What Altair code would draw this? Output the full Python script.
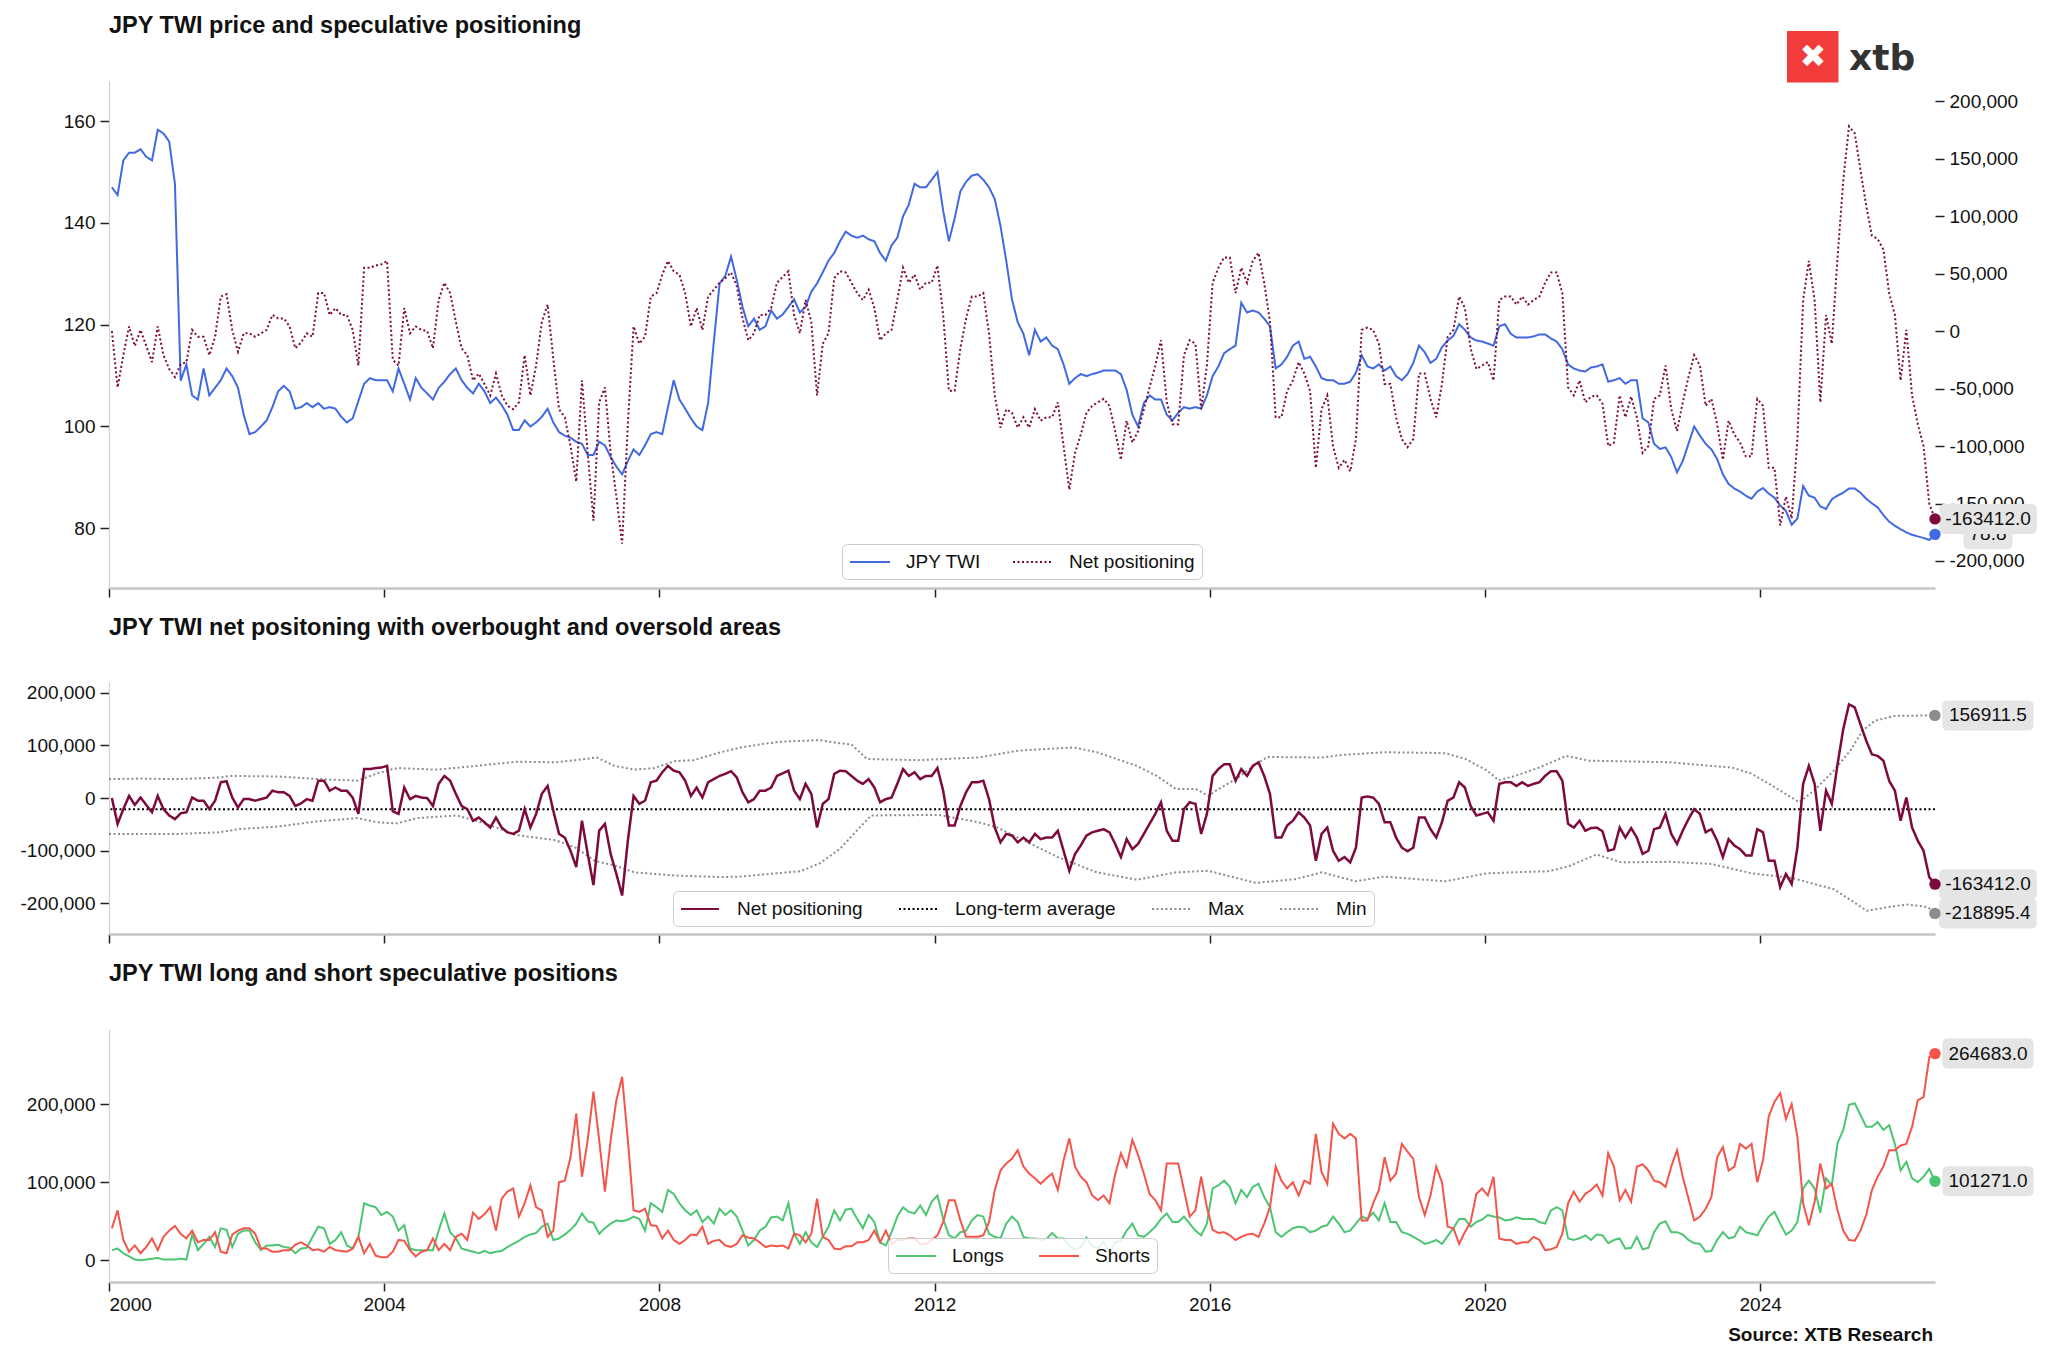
import altair as alt
import pandas as pd

FONT = "Liberation Sans"
BLUE = "#4169E1"
MAROON = "#7D0A3C"
GREEN = "#4CC573"
RED = "#F4544A"
GRAY = "#8C8C8C"
BOXC = "#E5E5E5"
INK = "#111111"
LOGO_RED = "#F23B3B"

# ---------------- data: monthly readings, Jan 2000 ... Jul 2026 ----------------
# JPY trade weighted index (left axis of panel 1)
TWI = [
    147, 145.5, 152.3, 153.8, 153.8, 154.5, 153, 152.3, 158.3, 157.6, 156, 147.7,
    109, 112.2, 106.1, 105.3, 111.4, 106.1, 107.6, 109.1, 111.4, 109.9, 107.6, 102.3,
    98.5, 98.9, 100, 101.2, 103.8, 106.9, 108, 106.9, 103.5, 103.8, 104.6, 103.8,
    104.6, 103.5, 103.8, 103.5, 101.9, 100.8, 101.6, 105, 108.4, 109.5, 109.1, 109.1,
    109.1, 106.9, 111.4, 108.4, 105.3, 109.5, 107.6, 106.5, 105.3, 107.6, 108.8, 110.3,
    111.4, 109.1, 107.6, 106.5, 108.4, 106.9, 104.6, 105.7, 104.2, 102.3, 99.3, 99.3,
    101.2, 100, 100.8, 101.9, 103.5, 100.8, 98.9, 98.2, 97.8, 97, 96.6, 94.4,
    94.4, 97, 96.3, 94, 92.1, 90.6, 93.2, 95.5, 94.4, 96.3, 98.5, 98.9,
    98.5, 103.8, 109.1, 105.3, 103.5, 101.6, 100, 99.3, 104.6, 116.7, 128.1, 129.6,
    133.4, 128.8, 123.5, 119.7, 121.2, 119, 119.7, 122.8, 121.2, 122, 123.5, 125,
    122.4, 123.5, 126.5, 128.1, 130.3, 132.6, 134.1, 136.4, 138.3, 137.5, 137.1, 137.5,
    136.8, 136.4, 134.1, 132.6, 135.6, 137.1, 141.3, 143.6, 147.7, 147, 147, 148.5,
    150, 142.4, 136.4, 140.9, 146.2, 148.1, 149.3, 149.6, 148.5, 147, 144.7, 139.4,
    132.6, 125, 120.5, 118.2, 114, 119, 116.7, 117.5, 115.9, 115.2, 112.2, 108.4,
    109.5, 110.3, 109.9, 110.3, 110.6, 111, 111, 111, 110.3, 107.2, 102.3, 100,
    104.6, 106.1, 105.3, 105.3, 102.3, 101.2, 102.7, 103.8, 103.5, 103.8, 103.5, 106.1,
    109.9, 111.8, 114.4, 115.2, 115.9, 124.3, 122.4, 122.8, 122.4, 121.2, 119.7, 111.4,
    112.2, 113.7, 115.9, 116.7, 113.3, 113.7, 111.8, 109.5, 109.1, 109.1, 108.4, 108.4,
    108.8, 110.6, 114, 111.8, 111.4, 112.2, 111, 111.8, 109.9, 109.1, 110.3, 112.5,
    115.9, 114.6, 112.5, 113.3, 115.6, 116.9, 117.8, 120.1, 119, 117.5, 116.9, 116.7,
    116.3, 115.9, 119.7, 120.1, 118.2, 117.5, 117.5, 117.5, 117.7, 118.1, 118.1, 117.3,
    116.7, 115.2, 112.2, 111.4, 111, 110.8, 111.6, 111.8, 112.2, 108.8, 109.1, 109.5,
    108.4, 109.1, 109.1, 101.6, 100.8, 96.6, 95.6, 95.9, 94, 91, 93.2, 96.6,
    100, 98.2, 96.6, 95.5, 93.6, 90.6, 88.7, 87.8, 87.2, 86.4, 85.8, 87.2,
    87.9, 86.8, 86, 84.5, 83.4, 80.7, 81.9, 88.3, 86.4, 86, 84.3, 83.8,
    85.7, 86.4, 87, 87.8, 87.8, 87, 85.8, 84.9, 84.1, 82.6, 81.3, 80.5,
    79.8, 79.2, 78.7, 78.4, 78.1, 77.7, 78.8,
]

# net speculative positioning, thousands of contracts
NET_K = [
    0, -49, -21, 4, -13, 1, -13, -27, 4, -21, -33, -40,
    -29, -27, 1, -5, -5, -21, -5, 30, 32, 1, -18, -2,
    -2, -5, -2, 1, 14, 11, 11, 4, -15, -10, -2, -5,
    33, 33, 14, 20, 14, 14, 1, -30, 55, 55, 57, 58,
    61, -25, -30, 20, -2, 4, 1, 0, -15, 27, 42, 33,
    8, -15, -21, -43, -37, -46, -56, -37, -56, -65, -68, -62,
    -21, -56, -30, 8, 23, -24, -68, -75, -100, -131, -43, -106,
    -165, -62, -49, -106, -144, -185, -81, 4, -11, -5, 30, 33,
    49, 61, 52, 49, 33, 4, 20, 1, 30, 36, 42, 46,
    51, 39, 11, -8, -2, 14, 14, 20, 42, 47, 52, 14,
    -2, 27, 8, -56, -11, -2, 46, 52, 51, 42, 33, 27,
    36, 20, -8, -2, 1, 27, 55, 42, 49, 36, 42, 42,
    57, 14, -52, -52, -15, 11, 30, 30, 33, -2, -56, -84,
    -68, -71, -84, -75, -84, -68, -78, -75, -75, -62, -100, -138,
    -106, -90, -71, -65, -62, -59, -65, -87, -112, -78, -97, -87,
    -68, -49, -30, -8, -62, -81, -81, -21, -8, -11, -68, -30,
    42, 55, 64, 64, 33, 55, 42, 61, 68, 42, 8, -75,
    -75, -52, -43, -27, -37, -52, -119, -68, -56, -100, -119, -112,
    -122, -94, 1, 3, 1, -11, -46, -46, -75, -94, -101, -94,
    -37, -37, -59, -75, -46, -5, 1, 30, 20, -15, -33, -30,
    -27, -43, 27, 30, 30, 23, 30, 23, 27, 30, 42, 51,
    51, 33, -49, -56, -43, -62, -57, -56, -63, -100, -97, -56,
    -75, -57, -75, -106, -100, -59, -56, -30, -68, -87, -62, -40,
    -21, -30, -65, -59, -81, -112, -78, -90, -97, -109, -109, -59,
    -65, -119, -119, -169, -144, -163, -94, 27, 61, 27, -62, 14,
    -11, 64, 131, 178, 172, 140, 109, 83, 80, 71, 33, 14,
    -43, 1, -56, -81, -100, -150, -163.412,
]

# speculative long positions, thousands
LONGS_K = [
    13, 15, 9, 5, 1, 0, 1, 2, 3, 1, 1, 1,
    2, 1, 33, 13, 21, 30, 17, 41, 39, 17, 34, 38,
    38, 23, 13, 19, 19, 20, 17, 16, 9, 15, 16, 30,
    43, 41, 21, 26, 36, 19, 15, 30, 73, 70, 68, 58,
    62, 56, 38, 45, 15, 13, 13, 13, 13, 38, 60, 36,
    28, 15, 13, 11, 9, 12, 9, 11, 12, 17, 21, 25,
    30, 33, 35, 43, 47, 26, 28, 33, 39, 47, 60, 50,
    48, 34, 41, 47, 51, 50, 52, 56, 53, 38, 73, 68,
    62, 90, 85, 73, 64, 58, 64, 49, 56, 47, 66, 58,
    64, 56, 38, 19, 26, 38, 43, 55, 56, 51, 73, 34,
    21, 36, 23, 17, 30, 43, 64, 51, 65, 66, 53, 41,
    58, 49, 23, 19, 36, 56, 68, 62, 60, 70, 58, 75,
    83, 53, 32, 28, 36, 38, 51, 58, 56, 34, 30, 28,
    47, 56, 49, 30, 28, 28, 26, 27, 35, 28, 28, 18,
    14, 17, 29, 18, 15, 24, 10, 23, 25, 38, 47, 32,
    30, 36, 43, 53, 60, 49, 49, 56, 47, 38, 32, 47,
    92, 96, 102, 94, 73, 90, 81, 94, 98, 81, 68, 36,
    30, 36, 41, 43, 42, 36, 38, 43, 45, 56, 47, 36,
    38, 47, 56, 53, 61, 51, 73, 49, 49, 36, 34, 30,
    26, 21, 23, 26, 21, 31, 41, 53, 53, 43, 49, 52,
    58, 56, 55, 51, 52, 55, 53, 53, 53, 49, 47, 64,
    68, 64, 28, 26, 28, 32, 26, 33, 32, 22, 26, 28,
    15, 16, 30, 14, 16, 36, 47, 50, 36, 36, 33, 26,
    22, 21, 11, 12, 26, 36, 28, 30, 43, 36, 34, 32,
    45, 56, 62, 47, 33, 38, 49, 92, 102, 92, 61, 105,
    96, 150, 167, 199, 201, 186, 171, 171, 177, 167, 173, 149,
    115, 126, 105, 100, 107, 117, 101.271,
]

# speculative short positions, thousands
SHORTS_K = [
    41, 64, 26, 11, 19, 9, 17, 28, 13, 30, 38, 44,
    34, 28, 38, 23, 26, 26, 36, 11, 9, 33, 38, 41,
    41, 34, 15, 15, 11, 11, 13, 13, 20, 23, 19, 13,
    14, 11, 17, 13, 12, 11, 15, 30, 9, 21, 6, 4,
    4, 11, 26, 25, 13, 5, 11, 13, 28, 13, 21, 13,
    30, 34, 26, 61, 53, 59, 68, 38, 79, 88, 92, 56,
    73, 96, 68, 64, 30, 38, 100, 102, 132, 188, 107, 154,
    216, 154, 88, 154, 205, 235, 154, 64, 62, 66, 45, 44,
    28, 38, 26, 21, 26, 33, 32, 43, 21, 25, 26, 19,
    17, 21, 32, 29, 28, 23, 17, 19, 18, 19, 15, 34,
    32, 23, 34, 79, 30, 26, 15, 14, 18, 18, 23, 23,
    26, 38, 23, 38, 21, 26, 26, 28, 28, 21, 21, 26,
    32, 49, 77, 77, 51, 30, 30, 30, 32, 49, 90, 115,
    124, 130, 141, 120, 111, 105, 98, 105, 111, 90, 128, 156,
    120, 107, 100, 83, 77, 83, 73, 110, 137, 120, 154, 135,
    111, 85, 77, 64, 124, 124, 124, 90, 56, 64, 107, 68,
    39, 35, 36, 32, 26, 30, 33, 34, 30, 47, 68, 120,
    102, 92, 100, 83, 102, 98, 162, 113, 98, 175, 162, 156,
    162, 156, 51, 51, 73, 90, 132, 102, 111, 149, 139, 130,
    81, 58, 83, 120, 100, 43, 41, 21, 36, 49, 85, 92,
    83, 107, 28, 26, 26, 21, 23, 23, 30, 26, 13, 14,
    17, 34, 73, 88, 75, 85, 90, 97, 83, 137, 120, 77,
    90, 75, 120, 123, 115, 102, 100, 94, 120, 141, 107, 79,
    51, 56, 66, 81, 132, 145, 115, 120, 149, 143, 149, 100,
    128, 184, 203, 214, 181, 200, 158, 73, 45, 75, 124, 92,
    98, 64, 38, 26, 25, 38, 58, 90, 107, 120, 141, 141,
    147, 149, 171, 205, 209, 260, 264.683,
]

# overbought (Max) and oversold (Min) bands: decimal year, thousands
MAX_T = [2000.0, 2000.45, 2001.02, 2001.6, 2001.77, 2002.46, 2003.04, 2003.61, 2003.9, 2004.19,
         2004.76, 2005.34, 2005.91, 2006.49, 2006.78, 2007.09, 2007.35, 2007.64, 2007.93, 2008.22,
         2008.5, 2008.89, 2009.18, 2009.47, 2009.76, 2010.33, 2010.62, 2010.79, 2011.02, 2011.77,
         2012.64, 2013.21, 2014.02, 2014.36, 2014.94, 2015.23, 2015.51, 2015.8, 2015.98, 2016.09,
         2016.38, 2016.67, 2016.84, 2017.63, 2017.94, 2018.53, 2019.13, 2019.43, 2019.72, 2020.02,
         2020.2, 2020.44, 2020.79, 2021.18, 2021.51, 2022.69, 2023.29, 2023.59, 2023.88, 2024.18,
         2024.57, 2024.78, 2025.07, 2025.31, 2025.49, 2025.67, 2025.96, 2026.54]
MAX_K = [36, 37, 36, 39, 42, 41, 36, 33, 47, 57,
         54, 61, 69, 68, 72, 77, 61, 54, 57, 70,
         72, 87, 96, 102, 107, 110, 104, 102, 74, 72,
         77, 90, 96, 87, 61, 42, 17, 17, 4, 14,
         36, 64, 78, 77, 82, 87, 86, 85, 74, 53,
         34, 42, 58, 80, 71, 68, 61, 58, 46, 23,
         -8, 14, 52, 90, 128, 147, 156, 156.9115]
MIN_T = [2000.0, 2001.02, 2001.6, 2001.88, 2002.46, 2003.04, 2003.61, 2003.9, 2004.19, 2004.48,
         2005.05, 2005.34, 2005.63, 2005.91, 2006.49, 2006.78, 2007.06, 2007.35, 2007.64, 2008.22,
         2008.9, 2009.18, 2009.76, 2010.05, 2010.33, 2010.62, 2010.91, 2011.08, 2012.06, 2012.64,
         2012.92, 2013.21, 2013.79, 2014.36, 2014.94, 2015.51, 2015.98, 2016.67, 2017.24, 2017.63,
         2018.12, 2018.53, 2019.43, 2020.02, 2020.61, 2020.91, 2021.21, 2021.62, 2021.98, 2022.69,
         2023.29, 2023.88, 2024.48, 2024.78, 2025.07, 2025.25, 2025.55, 2025.85, 2026.14, 2026.44,
         2026.54]
MIN_K = [-68, -68, -65, -59, -54, -44, -38, -46, -48, -38,
         -33, -43, -56, -70, -80, -94, -119, -128, -141, -147,
         -150, -149, -142, -139, -124, -97, -56, -33, -32, -46,
         -56, -75, -112, -141, -155, -141, -138, -161, -154, -141,
         -158, -149, -158, -143, -140, -139, -130, -107, -122, -121,
         -125, -143, -152, -163, -173, -188, -214, -207, -202, -207,
         -218.8954]
LONG_TERM_AVG = -21000

YEARS = [2000, 2004, 2008, 2012, 2016, 2020, 2024]
TWI_TICKS = [80, 100, 120, 140, 160]
NET_TICKS_RIGHT = [-200000, -150000, -100000, -50000, 0, 50000, 100000, 150000, 200000]
NET_TICKS = [-200000, -100000, 0, 100000, 200000]
POS_TICKS = [0, 100000, 200000]

TITLE1 = "JPY TWI price and speculative positioning"
TITLE2 = "JPY TWI net positoning with overbought and oversold areas"
TITLE3 = "JPY TWI long and short speculative positions"
SOURCE = "Source: XTB Research"

# ---------------- tables ----------------
N = len(TWI)
assert all(len(s) == N for s in (NET_K, LONGS_K, SHORTS_K))
assert len(MAX_T) == len(MAX_K) and len(MIN_T) == len(MIN_K)
T = [2000 + (m + 0.5) / 12 for m in range(N)]
T_LAST = T[-1]

NET = [v * 1000 for v in NET_K]
LONGS = [v * 1000 for v in LONGS_K]
SHORTS = [v * 1000 for v in SHORTS_K]
MAXV = [v * 1000 for v in MAX_K]
MINV = [v * 1000 for v in MIN_K]


def frame(t, v, name):
    return pd.DataFrame({"t": t, "v": v, "series": name})


df_twi = frame(T, TWI, "JPY TWI")
df_net1 = frame(T, NET, "Net positioning")
df_net2 = frame(T, NET, "Net positioning")
df_avg = pd.DataFrame({"v": [LONG_TERM_AVG], "series": ["Long-term average"]})
df_max = frame(MAX_T, MAXV, "Max")
df_min = frame(MIN_T, MINV, "Min")
df_long = frame(T, LONGS, "Longs")
df_short = frame(T, SHORTS, "Shorts")
ONE = pd.DataFrame({"a": [0]})

# ---------------- layout ----------------
W = 1826
H1, H2, H3 = 507, 252, 253
LABEL_DX = 53
CHAR_W = {".": 278, "-": 333, ",": 278}


def text_w(s, size=19):
    return sum(CHAR_W.get(c, 556) for c in s) * size / 1000.0


def xenc(labels=False):
    return alt.X(
        "t:Q", title=None,
        scale=alt.Scale(domain=[2000, T_LAST], nice=False, zero=False),
        axis=alt.Axis(values=YEARS, labels=labels, format="d", grid=False,
                      ticks=True, tickSize=9, tickWidth=1.5, tickColor="#222222",
                      domain=True, domainColor="#c4c4c4", domainWidth=2.5,
                      labelFont=FONT, labelFontSize=19, labelColor=INK, labelPadding=4),
    )


def yaxis(values, fmt, orient="left", domain=True):
    kw = dict(orient=orient, values=values, format=fmt,
              labelExpr="replace(datum.label, '\u2212', '-')",
              grid=False, ticks=True, tickSize=9, tickWidth=1.5, tickColor="#222222",
              domain=domain, domainColor="#d0d0d0", domainWidth=1.2,
              labelFont=FONT, labelFontSize=19, labelColor=INK, labelPadding=5)
    if orient == "left":
        kw["minExtent"] = 90
    return alt.Axis(**kw)


def legend(x, y, ncol, colpad, symlen, gap):
    r = 10  # nominal symbol radius (symbolSize 400)
    path = "M-1,0H%.2f" % ((symlen - r) / r)
    return alt.Legend(title=None, orient="none", legendX=x, legendY=y,
                      direction="horizontal", columns=ncol, symbolType=path,
                      symbolSize=(2 * r) ** 2, symbolStrokeWidth=2,
                      labelFont=FONT, labelFontSize=19, labelColor=INK,
                      labelOffset=symlen + gap - 2 * r, labelLimit=400,
                      columnPadding=colpad, padding=7,
                      fillColor="rgba(255,255,255,0.85)",
                      strokeColor="#cccccc", cornerRadius=5)


def style(domain, colors, dashes, lg):
    c = alt.Color("series:N", scale=alt.Scale(domain=domain, range=colors), legend=lg)
    d = alt.StrokeDash("series:N", scale=alt.Scale(domain=domain, range=dashes), legend=lg)
    return c, d


def title_layer(text, y):
    return alt.Chart(ONE).mark_text(
        text=text, align="left", baseline="alphabetic", font=FONT,
        fontSize=23.5, fontWeight="bold", color=INK,
    ).encode(x=alt.value(0), y=alt.value(y))


def end_label(t, v, text, color, yscale, xe):
    d = pd.DataFrame({"t": [t], "v": [v], "label": [text]})
    ye = alt.Y("v:Q", scale=yscale, axis=None, title=None)
    bw = text_w(text) + 12
    box = alt.Chart(d).mark_rect(
        color=BOXC, cornerRadius=5,
        xOffset=LABEL_DX - bw / 2, x2Offset=LABEL_DX + bw / 2,
        yOffset=-15, y2Offset=15,
    ).encode(x=xe, x2=alt.X2("t"), y=ye, y2=alt.Y2("v"))
    txt = alt.Chart(d).mark_text(
        align="center", baseline="middle", dx=LABEL_DX, font=FONT, fontSize=19, color=INK,
    ).encode(x=xe, y=ye, text="label:N")
    dot = alt.Chart(d).mark_circle(size=130, opacity=1, color=color).encode(x=xe, y=ye)
    return box, txt, dot


SOLID = [1, 0]
DOT = [2, 2.5]

# ---------------- panel 1 ----------------
S_TWI = alt.Scale(domain=[68.26, 167.9], nice=False, zero=False)
S_NET1 = alt.Scale(domain=[-223500, 217500], nice=False, zero=False)
x1 = xenc(False)
c1, d1 = style(["JPY TWI", "Net positioning"], [BLUE, MAROON], [SOLID, DOT],
               legend(733, 463, 2, 28, 40, 15))

twi_line = alt.Chart(df_twi).mark_line(strokeWidth=2).encode(
    x=x1, y=alt.Y("v:Q", scale=S_TWI, axis=yaxis(TWI_TICKS, "d"), title=None),
    color=c1, strokeDash=d1)
net_line1 = alt.Chart(df_net1).mark_line(strokeWidth=2).encode(
    x=x1, y=alt.Y("v:Q", scale=S_NET1, axis=yaxis(NET_TICKS_RIGHT, ",d", "right", False), title=None),
    color=c1, strokeDash=d1)

tb, tt, td = end_label(T_LAST, TWI[-1], f"{TWI[-1]:.1f}", BLUE, S_TWI, x1)
nb, nt, nd = end_label(T_LAST, NET[-1], f"{NET[-1]:.1f}", MAROON, S_NET1, x1)

logo_box = alt.Chart(ONE).mark_rect(color=LOGO_RED).encode(
    x=alt.value(1678), x2=alt.value(1729.5), y=alt.value(-50), y2=alt.value(1.5))
logo_x = alt.Chart(ONE).mark_text(
    text="\u2716", font="DejaVu Sans", fontSize=32, color="white",
    align="center", baseline="middle").encode(x=alt.value(1704), y=alt.value(-24))
logo_word = alt.Chart(ONE).mark_text(
    text="xtb", font="DejaVu Sans", fontSize=36, fontWeight="bold", color="#333333",
    align="left", baseline="alphabetic").encode(x=alt.value(1740), y=alt.value(-11))

p1 = alt.layer(
    title_layer(TITLE1, -48), logo_box, logo_x, logo_word,
    twi_line, net_line1, tb, tt, nb, nt, td, nd,
).resolve_scale(y="independent").properties(width=W, height=H1)

# ---------------- panel 2 ----------------
S_NET2 = alt.Scale(domain=[-258000, 220300], nice=False, zero=False)
x2 = xenc(False)
c2, d2 = style(["Net positioning", "Long-term average", "Max", "Min"],
               [MAROON, "#000000", GRAY, GRAY], [SOLID, DOT, DOT, DOT],
               legend(564, 209, 4, 32, 38, 17))
y2_none = alt.Y("v:Q", scale=S_NET2, axis=None, title=None)

max_line = alt.Chart(df_max).mark_line(strokeWidth=2).encode(x=x2, y=y2_none, color=c2, strokeDash=d2)
min_line = alt.Chart(df_min).mark_line(strokeWidth=2).encode(x=x2, y=y2_none, color=c2, strokeDash=d2)
avg_rule = alt.Chart(df_avg).mark_rule(strokeWidth=2).encode(y=y2_none, color=c2, strokeDash=d2)
net_line2 = alt.Chart(df_net2).mark_line(strokeWidth=2.5).encode(
    x=x2, y=alt.Y("v:Q", scale=S_NET2, axis=yaxis(NET_TICKS, ",d"), title=None),
    color=c2, strokeDash=d2)

mb, mt, md = end_label(MAX_T[-1], MAXV[-1], f"{MAXV[-1]:.1f}", GRAY, S_NET2, x2)
n2b, n2t, n2d = end_label(T_LAST, NET[-1], f"{NET[-1]:.1f}", MAROON, S_NET2, x2)
ib, it, idt = end_label(MIN_T[-1], MINV[-1], f"{MINV[-1]:.1f}", GRAY, S_NET2, x2)

p2 = alt.layer(
    title_layer(TITLE2, -47), max_line, min_line, avg_rule, net_line2,
    mb, mt, n2b, n2t, ib, it, md, n2d, idt,
).resolve_scale(y="independent").properties(width=W, height=H2)

# ---------------- panel 3 ----------------
S_POS = alt.Scale(domain=[-27800, 296200], nice=False, zero=False)
x3 = xenc(True)
c3, d3 = style(["Longs", "Shorts"], [GREEN, RED], [SOLID, SOLID],
               legend(779, 209, 2, 31, 40, 15))

long_line = alt.Chart(df_long).mark_line(strokeWidth=2).encode(
    x=x3, y=alt.Y("v:Q", scale=S_POS, axis=yaxis(POS_TICKS, ",d"), title=None),
    color=c3, strokeDash=d3)
short_line = alt.Chart(df_short).mark_line(strokeWidth=2).encode(
    x=x3, y=alt.Y("v:Q", scale=S_POS, axis=None, title=None), color=c3, strokeDash=d3)

sb, st, sd = end_label(T_LAST, SHORTS[-1], f"{SHORTS[-1]:.1f}", RED, S_POS, x3)
lb, lt, ld = end_label(T_LAST, LONGS[-1], f"{LONGS[-1]:.1f}", GREEN, S_POS, x3)

source = alt.Chart(ONE).mark_text(
    text=SOURCE, align="right", baseline="alphabetic", font=FONT, fontSize=19,
    fontWeight="bold", color=INK).encode(x=alt.value(W - 2), y=alt.value(H3 + 58.5))

p3 = alt.layer(
    title_layer(TITLE3, -48), long_line, short_line, sb, st, lb, lt, sd, ld, source,
).resolve_scale(y="independent").properties(width=W, height=H3)

chart = alt.vconcat(p1, p2, p3, spacing=18).resolve_scale(
    color="independent", strokeDash="independent"
).properties(
    padding={"left": 11, "top": 6, "right": 0, "bottom": 2},
    background="white",
).configure_view(strokeWidth=0)

chart.save("out.html", embed_options={"renderer": "svg", "actions": False})
